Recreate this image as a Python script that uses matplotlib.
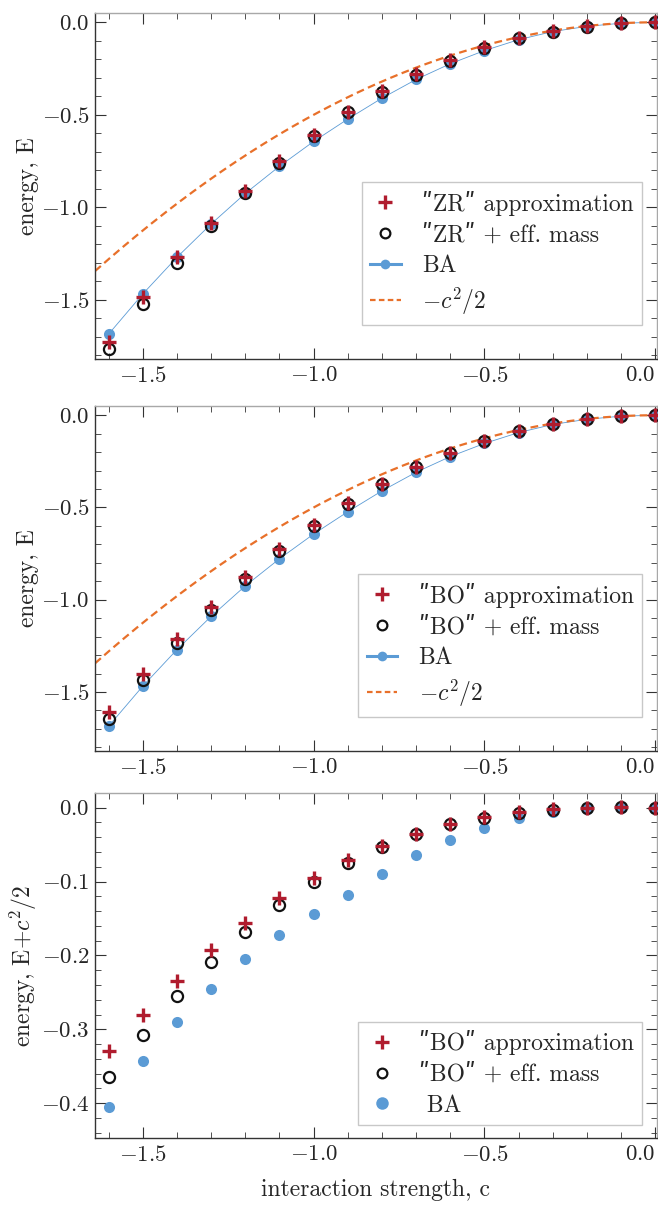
import numpy as np
import matplotlib
matplotlib.use("Agg")
import matplotlib.pyplot as plt
from matplotlib.ticker import MultipleLocator

plt.rcParams['font.family'] = ['cmr10', 'DejaVu Serif']
plt.rcParams['mathtext.fontset'] = 'cm'
plt.rcParams['axes.formatter.use_mathtext'] = True

# interaction strength
c = [-1.6, -1.5, -1.4, -1.3, -1.2, -1.1, -1.0, -0.9, -0.8,
     -0.7, -0.6, -0.5, -0.4, -0.3, -0.2, -0.1, 0.0]

# panel 1: "ZR" results
zr_approx = [-1.727, -1.486, -1.266, -1.085, -0.914, -0.752, -0.608, -0.484, -0.374,
             -0.281, -0.203, -0.135, -0.083, -0.047, -0.020, -0.005, 0.0]
zr_mass = [-1.768, -1.522, -1.300, -1.099, -0.923, -0.761, -0.613, -0.487, -0.378,
           -0.284, -0.207, -0.137, -0.086, -0.050, -0.023, -0.005, 0.0]

# panel 2: "BO" results
bo_approx = [-1.609, -1.405, -1.215, -1.038, -0.876, -0.727, -0.595, -0.476, -0.372,
             -0.280, -0.202, -0.138, -0.086, -0.047, -0.021, -0.004, 0.0]
bo_mass = [-1.644, -1.433, -1.235, -1.055, -0.888, -0.737, -0.601, -0.480, -0.373,
           -0.281, -0.203, -0.139, -0.087, -0.048, -0.021, -0.004, 0.0]

# Bethe ansatz
ba = [-1.685, -1.468, -1.270, -1.090, -0.925, -0.778, -0.644, -0.523, -0.410,
      -0.309, -0.224, -0.153, -0.094, -0.050, -0.022, -0.005, 0.0]

# panel 3: E + c^2/2
bo_approx_shift = [-0.329, -0.280, -0.235, -0.193, -0.156, -0.122, -0.0946, -0.0712, -0.0523,
                   -0.0351, -0.0216, -0.0126, -0.0059, -0.0023, -0.001, 0.001, 0.0]
bo_mass_shift = [-0.364, -0.3077, -0.2554, -0.2095, -0.168, -0.132, -0.101, -0.0748, -0.0532,
                 -0.036, -0.0225, -0.0135, -0.0068, -0.0027, -0.0005, 0.001, 0.0]
ba_shift = [-0.4045, -0.343, -0.290, -0.245, -0.205, -0.1725, -0.1437, -0.1176, -0.0896,
            -0.0644, -0.0437, -0.0279, -0.014, -0.0054, -0.0018, 0.0, 0.0]

xticks = [-1.5, -1.0, -0.5, 0.0]

RED = '#b01c2e'
BLUE = '#5b9bd5'
ORANGE = '#e8702a'
FRAME = '#a8a8a8'
TXT = '#262626'
Q = '\u02ba'  # straight double quote

fig = plt.figure(figsize=(6.58, 12.08), dpi=100)
ax1 = fig.add_axes([0.1444, 0.7028, 0.854, 0.2864])
ax2 = fig.add_axes([0.1444, 0.3783, 0.854, 0.2856])
ax3 = fig.add_axes([0.1444, 0.0580, 0.854, 0.2856])


def fmt(v, p):
    return f"${v:.1f}$"


def style_axes(ax, ymajor, yminor):
    ax.set_xlim(-1.64, 0.005)
    ax.set_xticks(xticks)
    ax.xaxis.set_minor_locator(MultipleLocator(0.1))
    ax.yaxis.set_major_locator(MultipleLocator(ymajor))
    ax.yaxis.set_minor_locator(MultipleLocator(yminor))
    ax.xaxis.set_major_formatter(plt.FuncFormatter(fmt))
    ax.yaxis.set_major_formatter(plt.FuncFormatter(fmt))
    ax.tick_params(which='both', direction='in', top=True, right=True,
                   colors='#333333', labelsize=16.5, labelcolor=TXT)
    ax.tick_params(which='major', length=8, width=0.8, pad=5)
    ax.tick_params(which='minor', length=4, width=0.6)
    ax.tick_params(axis='y', which='major', pad=4)
    for s in ax.spines.values():
        s.set_color(FRAME)
        s.set_linewidth(1.0)
    ax.spines['bottom'].set_color('#333333')
    ax.spines['left'].set_color('#333333')
    # keep the 0.0 label inside the figure, as in the reference
    ax.get_xticklabels()[-1].set_horizontalalignment('right')
    ax.yaxis.set_label_coords(-0.1, 0.5)


legend_kw = dict(loc='lower right', fontsize=17, fancybox=False, framealpha=1,
                 edgecolor='#c8c8c8', handlelength=1.3, borderpad=0.35,
                 labelspacing=0.36, handletextpad=0.9, borderaxespad=0)

cc = np.linspace(-1.64, 0.0, 200)

for ax, approx, mass, name in [(ax1, zr_approx, zr_mass, 'ZR'), (ax2, bo_approx, bo_mass, 'BO')]:
    ax.plot(cc, -cc ** 2 / 2, color=ORANGE, lw=1.6, dashes=(3.5, 2), zorder=2)
    ax.plot(c, ba, '-', color=BLUE, lw=0.6, zorder=1)
    ax.plot(c, ba, 'o', color=BLUE, ms=8, mew=0, zorder=3)
    ax.plot(c, approx, '+', color=RED, ms=10, mew=2.4, zorder=5)
    ax.plot(c, mass, 'o', mfc='none', mec='#111111', ms=8, mew=1.6, zorder=4)
    h1 = ax.plot([], [], '+', color=RED, ms=10, mew=2.4)[0]
    h2 = ax.plot([], [], 'o', mfc='none', mec='#111111', ms=7, mew=1.6)[0]
    h3 = ax.plot([], [], '-o', color=BLUE, lw=2.2, ms=7, mew=0)[0]
    h4 = ax.plot([], [], color=ORANGE, lw=1.6, dashes=(2.5, 1.5))[0]
    ax.set_ylim(-1.82, 0.05)
    ax.set_ylabel('energy, E', fontsize=17, color=TXT)
    style_axes(ax, 0.5, 0.1)
    leg = ax.legend([h1, h2, h3, h4],
                    [f'{Q}{name}{Q} approximation', f'{Q}{name}{Q} + eff. mass', 'BA',
                     r'$-c^2/2$'],
                    bbox_to_anchor=(0.973, 0.099), **legend_kw)
    for t in leg.get_texts():
        t.set_color(TXT)

ax3.plot(c, ba_shift, 'o', color=BLUE, ms=8, mew=0, zorder=3)
ax3.plot(c, bo_approx_shift, '+', color=RED, ms=10, mew=2.4, zorder=5)
ax3.plot(c, bo_mass_shift, 'o', mfc='none', mec='#111111', ms=8, mew=1.6, zorder=4)
g1 = ax3.plot([], [], '+', color=RED, ms=10, mew=2.4)[0]
g2 = ax3.plot([], [], 'o', mfc='none', mec='#111111', ms=7, mew=1.6)[0]
g3 = ax3.plot([], [], 'o', color=BLUE, ms=9, mew=0)[0]
ax3.set_ylim(-0.447, 0.02)
ax3.set_ylabel(r'energy, E+$c^2$/2', fontsize=17, color=TXT)
style_axes(ax3, 0.1, 0.02)
ax3.set_xlabel('interaction strength, c', fontsize=17, color=TXT, labelpad=10)
leg = ax3.legend([g1, g2, g3], [f'{Q}BO{Q} approximation', f'{Q}BO{Q} + eff. mass', ' BA'],
                 bbox_to_anchor=(0.973, 0.038), **legend_kw)
for t in leg.get_texts():
    t.set_color(TXT)

fig.savefig('out.png', dpi=100)
